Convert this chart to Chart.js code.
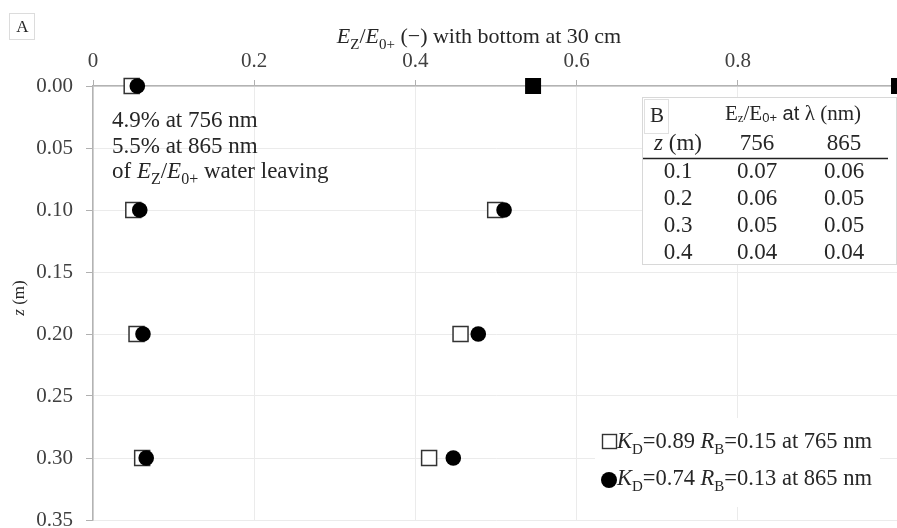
<!DOCTYPE html>
<html>
<head>
<meta charset="utf-8">
<script src="https://cdn.jsdelivr.net/npm/chart.js@4.4.0/dist/chart.umd.min.js"></script>
<style>
    html, body { margin: 0; padding: 0; background: #fff; overflow: hidden; }
    #marco { width: 897px; height: 528px; overflow: hidden; position: relative; }
    #grafica { position: absolute; left: 0; top: 0; }
</style>
</head>
<body>
<div id="marco"><canvas id="grafica" width="920" height="550"></canvas></div>
<script>
// profundidades (m) y razones Ez/E0+
const profundidades = [0, 0.1, 0.2, 0.3];
const razon756Izq = [0.048, 0.050, 0.054, 0.061];
const razon865Izq = [0.055, 0.058, 0.062, 0.066];
const razon756Der = [null, 0.499, 0.456, 0.417];
const razon865Der = [null, 0.510, 0.478, 0.447];
const fondoProf = [0, 0];
const fondoRazon = [0.546, 1.0];

// tabla B
const tablaZ = ['0.1', '0.2', '0.3', '0.4'];
const tabla756 = ['0.07', '0.06', '0.05', '0.04'];
const tabla865 = ['0.06', '0.05', '0.05', '0.04'];

const SERIF = '"Liberation Serif", "Times New Roman", serif';
const SANS = '"Liberation Sans", Arial, sans-serif';
const TXT = '#262626';

function puntos(xs, ys) {
    return xs.map((x, i) => ({ x: x, y: ys[i] })).filter(p => p.x !== null);
}

function dibujarTramos(ctx, x, y, tramos, alin) {
    let w = 0;
    tramos.forEach(t => { ctx.font = t.f; w += ctx.measureText(t.t).width; });
    let cx = alin === 'center' ? x - w / 2 : (alin === 'right' ? x - w : x);
    tramos.forEach(t => {
        ctx.font = t.f;
        ctx.fillText(t.t, cx, y + (t.dy || 0));
        cx += ctx.measureText(t.t).width;
    });
}

const fs = n => n + 'px ' + SERIF;
const fi = n => 'italic ' + n + 'px ' + SERIF;

// texto con E_Z/E_0+ en un tamaño dado
function razonTramos(n) {
    const sub = Math.round(n * 0.68);
    const dy = Math.round(n * 0.25);
    return [
        { t: 'E', f: fi(n) }, { t: 'Z', f: fs(sub), dy: dy }, { t: '/', f: fs(n) },
        { t: 'E', f: fi(n) }, { t: '0+', f: fs(sub), dy: dy }
    ];
}

function leyendaTramos(n, kd, rb, lam) {
    const sub = Math.round(n * 0.68);
    const dy = Math.round(n * 0.25);
    return [
        { t: 'K', f: fi(n) }, { t: 'D', f: fs(sub), dy: dy }, { t: '=' + kd + ' ', f: fs(n) },
        { t: 'R', f: fi(n) }, { t: 'B', f: fs(sub), dy: dy }, { t: '=' + rb + ' at ' + lam + ' nm', f: fs(n) }
    ];
}

const textos = {
    id: 'textos',
    beforeDraw(chart) {
        const ctx = chart.ctx;
        ctx.save();
        ctx.fillStyle = '#fff';
        ctx.fillRect(0, 0, chart.width, chart.height);
        ctx.restore();
    },
    afterDraw(chart) {
        const ctx = chart.ctx;
        ctx.save();
        ctx.fillStyle = TXT;
        ctx.textAlign = 'left';
        ctx.textBaseline = 'alphabetic';

        // caja A
        ctx.strokeStyle = '#dcdcdc';
        ctx.lineWidth = 1;
        ctx.strokeRect(9.5, 13.5, 25, 26);
        dibujarTramos(ctx, 22.5, 32, [{ t: 'A', f: fs(17) }], 'center');

        // titulo eje x
        dibujarTramos(ctx, 479, 43, razonTramos(22).concat([{ t: ' (\u2212) with bottom at 30 cm', f: fs(22) }]), 'center');

        // titulo eje y
        ctx.save();
        ctx.translate(24, 298);
        ctx.rotate(-Math.PI / 2);
        dibujarTramos(ctx, 0, 0, [{ t: 'z', f: fi(17) }, { t: ' (m)', f: fs(17) }], 'center');
        ctx.restore();

        // anotacion
        dibujarTramos(ctx, 112, 127, [{ t: '4.9% at 756 nm', f: fs(23) }], 'left');
        dibujarTramos(ctx, 112, 153, [{ t: '5.5% at 865 nm', f: fs(23) }], 'left');
        dibujarTramos(ctx, 112, 178, [{ t: 'of ', f: fs(23) }].concat(razonTramos(23), [{ t: ' water leaving', f: fs(23) }]), 'left');

        // tabla B
        ctx.fillStyle = '#fff';
        ctx.fillRect(642, 97, 255, 168);
        ctx.strokeStyle = '#d8d8d8';
        ctx.lineWidth = 1;
        ctx.strokeRect(642.5, 97.5, 254, 167);
        ctx.strokeStyle = '#e0e0e0';
        ctx.strokeRect(644.5, 99.5, 24, 34);
        ctx.fillStyle = TXT;
        dibujarTramos(ctx, 657, 122, [{ t: 'B', f: fs(21) }], 'center');
        dibujarTramos(ctx, 793, 120, [
            { t: 'E', f: fs(21) }, { t: 'z', f: fs(13), dy: 2 },
            { t: '/E', f: fs(21) }, { t: '0+', f: '13px ' + SANS, dy: 2 },
            { t: ' at ', f: '20px ' + SANS }, { t: '\u03bb (nm)', f: fs(21) }
        ], 'center');
        dibujarTramos(ctx, 678, 150, [{ t: 'z', f: fi(23) }, { t: ' (m)', f: fs(23) }], 'center');
        dibujarTramos(ctx, 757, 150, [{ t: '756', f: fs(23) }], 'center');
        dibujarTramos(ctx, 844, 150, [{ t: '865', f: fs(23) }], 'center');
        ctx.strokeStyle = '#222';
        ctx.lineWidth = 1.5;
        ctx.beginPath();
        ctx.moveTo(643, 158.5);
        ctx.lineTo(888, 158.5);
        ctx.stroke();
        tablaZ.forEach((z, i) => {
            const yb = 177.5 + i * 27;
            dibujarTramos(ctx, 678, yb, [{ t: z, f: fs(23) }], 'center');
            dibujarTramos(ctx, 757, yb, [{ t: tabla756[i], f: fs(23) }], 'center');
            dibujarTramos(ctx, 844, yb, [{ t: tabla865[i], f: fs(23) }], 'center');
        });

        // leyenda
        ctx.fillStyle = '#fff';
        ctx.fillRect(595, 418, 285, 89);
        ctx.strokeStyle = '#333';
        ctx.lineWidth = 1.4;
        ctx.strokeRect(602.5, 434.5, 14, 14);
        ctx.fillStyle = '#000';
        ctx.beginPath();
        ctx.arc(609, 480, 8, 0, Math.PI * 2);
        ctx.fill();
        ctx.fillStyle = TXT;
        dibujarTramos(ctx, 617, 448, leyendaTramos(22.5, '0.89', '0.15', '765'), 'left');
        dibujarTramos(ctx, 617, 485, leyendaTramos(22.5, '0.74', '0.13', '865'), 'left');

        ctx.restore();
    }
};

const cuadro = { type: 'scatter', pointStyle: 'rect', pointRadius: 10.6, pointHoverRadius: 10.6,
    backgroundColor: '#fff', borderColor: '#333', borderWidth: 1.5, clip: false, order: 2 };
const circulo = { type: 'scatter', pointStyle: 'circle', pointRadius: 7.8, pointHoverRadius: 7.8,
    backgroundColor: '#000', borderColor: '#000', borderWidth: 0, clip: false, order: 1 };

new Chart(document.getElementById('grafica').getContext('2d'), {
    type: 'scatter',
    data: {
        datasets: [
            Object.assign({ label: '756 izq', data: puntos(razon756Izq, profundidades) }, cuadro),
            Object.assign({ label: '865 izq', data: puntos(razon865Izq, profundidades) }, circulo),
            Object.assign({ label: '756 der', data: puntos(razon756Der, profundidades) }, cuadro),
            Object.assign({ label: '865 der', data: puntos(razon865Der, profundidades) }, circulo),
            { label: 'fondo', data: puntos(fondoRazon, fondoProf), pointStyle: 'rect', pointRadius: 11.3,
              pointHoverRadius: 11.3, backgroundColor: '#000', borderColor: '#000', borderWidth: 0, clip: false, order: 0 }
        ]
    },
    options: {
        responsive: false,
        animation: false,
        events: [],
        layout: { padding: { left: 0, top: 0, right: 21, bottom: 30 } },
        plugins: { legend: { display: false }, tooltip: { enabled: false } },
        scales: {
            x: {
                type: 'linear', position: 'top', min: 0, max: 1,
                afterFit: s => { s.height = 86; },
                ticks: {
                    stepSize: 0.2, padding: 6, color: '#404040',
                    font: { family: SERIF, size: 21 },
                    callback: v => (Math.abs(v - 1) < 1e-9 ? '' : String(Math.round(v * 10) / 10))
                },
                grid: { color: '#ebebeb', lineWidth: 1, tickLength: 6, tickColor: '#b0b0b0' },
                border: { color: '#b3b3b3', width: 1.5 }
            },
            y: {
                type: 'linear', reverse: true, min: 0, max: 0.35,
                afterFit: s => { s.width = 93; },
                ticks: {
                    stepSize: 0.05, padding: 13, color: '#404040',
                    font: { family: SERIF, size: 21 },
                    callback: v => Number(v).toFixed(2)
                },
                grid: { color: '#ebebeb', lineWidth: 1, tickLength: 7, tickColor: '#b0b0b0' },
                border: { color: '#b3b3b3', width: 1.5 }
            }
        }
    },
    plugins: [textos]
});
</script>
</body>
</html>
